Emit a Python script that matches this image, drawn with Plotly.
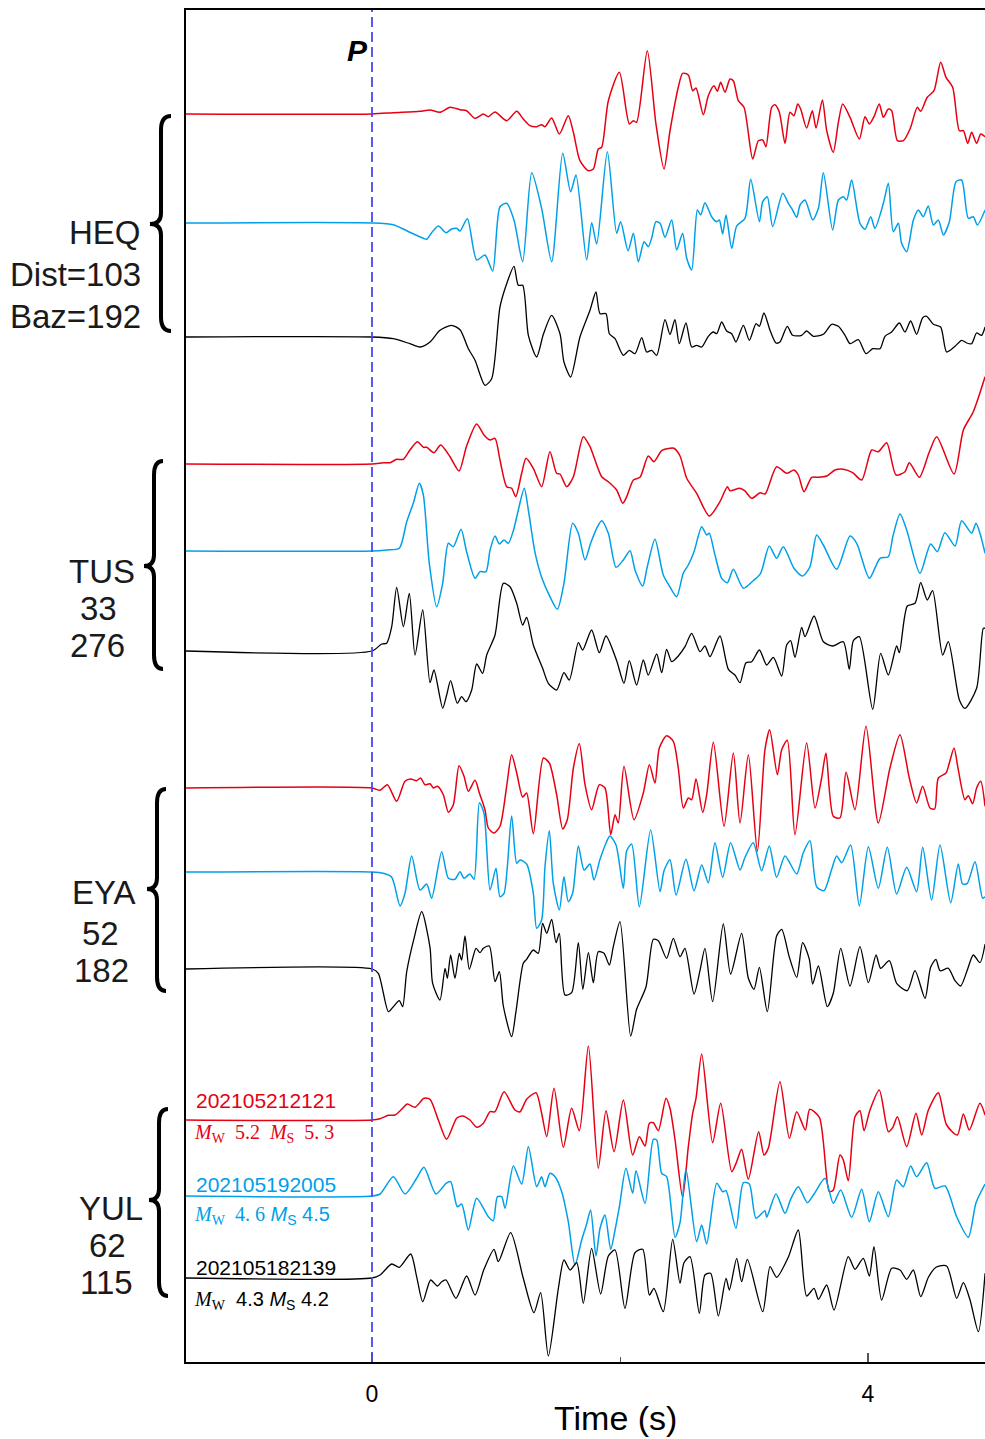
import plotly.graph_objects as go

# ---------------- data: (time s, amplitude) pairs ----------------
HEQ_RED = [(-1.5,0),(0,0),(0.172,1.3),(0.387,2.7),(0.468,4),(0.548,1.7),(0.629,6.7),(0.71,4.3),(0.763,3.3),(0.831,-4.3),(0.898,0),(0.938,-2.7),(0.992,2),(1.086,-6.7),(1.167,2.7),(1.22,-5),(1.274,-11.7),(1.328,-12.7),(1.368,-10.7),(1.395,-12.7),(1.449,-4),(1.511,-20),(1.583,-1.7),(1.624,-18.3),(1.677,-46.7),(1.745,-56.7),(1.785,-55),(1.825,-35),(1.852,-33.3),(1.906,13.3),(1.995,41.7),(2.075,-10),(2.108,-6.7),(2.134,-8.3),(2.22,63.3),(2.29,-10),(2.355,-55),(2.403,-17),(2.47,26.7),(2.505,40.7),(2.551,39),(2.586,23.3),(2.613,26),(2.672,-0.7),(2.712,18.3),(2.758,28.3),(2.785,22.7),(2.812,31.7),(2.847,21.7),(2.887,35),(2.914,33.3),(2.954,13.3),(3.0,6.7),(3.07,-45),(3.116,-26.7),(3.151,-26),(3.177,-32.7),(3.223,6.7),(3.25,9.3),(3.285,1.7),(3.331,-29.3),(3.371,1.7),(3.403,-1.7),(3.433,10),(3.457,5),(3.505,-14),(3.551,3.3),(3.581,-14),(3.632,14),(3.667,-16.7),(3.72,-38.3),(3.761,-8.3),(3.796,10),(3.855,-3.3),(3.93,-25),(3.976,-2.7),(4.011,-10),(4.048,-2.7),(4.091,10),(4.124,-3.3),(4.164,5),(4.191,3.3),(4.237,-26.7),(4.285,-26.7),(4.339,-15),(4.398,6.7),(4.425,2.7),(4.478,16.7),(4.532,23.3),(4.586,51.7),(4.629,36.7),(4.683,26.7),(4.737,-16.7),(4.769,-16.7),(4.804,-29.3),(4.836,-18.3),(4.876,-29.3),(4.909,-20),(4.944,-22.7)]

HEQ_BLUE = [(-1.5,0),(0,0),(0.172,-1.7),(0.28,-7.7),(0.414,-15.3),(0.441,-16.3),(0.481,-9.7),(0.535,-3),(0.597,-9.7),(0.642,-6),(0.683,-5.3),(0.71,-8),(0.769,4.3),(0.844,-37),(0.911,-32),(0.973,-48),(1.032,16.3),(1.086,19.7),(1.145,3),(1.215,-38.7),(1.288,50.3),(1.368,14.7),(1.449,-38.7),(1.538,69.7),(1.602,31.3),(1.645,48),(1.731,-37),(1.772,0.3),(1.812,-21),(1.898,71.3),(1.973,-10.3),(2.005,1.3),(2.065,-27.7),(2.108,-10.3),(2.148,-38.7),(2.194,-18.7),(2.228,-23.7),(2.255,-15.3),(2.29,1.3),(2.323,-0.3),(2.363,-14.3),(2.417,3),(2.457,-27),(2.505,-10.3),(2.538,-35.3),(2.578,-47),(2.624,13),(2.651,8),(2.685,20.3),(2.739,6.3),(2.78,1.3),(2.801,3),(2.828,-11),(2.855,8),(2.901,-25.3),(2.941,-3),(3.008,4.7),(3.054,43.7),(3.124,1.3),(3.151,21.3),(3.188,26.3),(3.231,-3.7),(3.312,29.7),(3.358,19.7),(3.392,13),(3.425,5.7),(3.452,18),(3.492,23),(3.554,3),(3.6,14.7),(3.64,50.3),(3.715,-7),(3.761,23),(3.801,26.3),(3.828,23),(3.868,43),(3.935,-0.3),(3.976,-6.3),(4.022,6.3),(4.056,-5.3),(4.124,19.7),(4.164,39.7),(4.204,-8.7),(4.245,-0.3),(4.271,-20.3),(4.312,-28.7),(4.366,3),(4.406,13),(4.446,6.3),(4.486,17),(4.527,-2),(4.567,3),(4.608,-12),(4.656,1.3),(4.71,41.3),(4.755,43),(4.809,4.7),(4.849,6.3),(4.882,-2),(4.944,13)]

HEQ_BLACK = [(-1.5,0),(0,0),(0.172,-1.7),(0.306,-6.7),(0.387,-10),(0.468,-5),(0.548,6.7),(0.642,11.7),(0.71,7.3),(0.777,-11.7),(0.831,-23.3),(0.911,-48.3),(0.965,-41.7),(1.032,30),(1.086,53.3),(1.145,70.7),(1.18,51.7),(1.215,51.7),(1.261,1.7),(1.328,-20),(1.382,2.7),(1.449,21.7),(1.516,3.3),(1.548,-25),(1.602,-40),(1.677,0),(1.758,26.7),(1.806,45),(1.839,23.3),(1.887,23.3),(1.914,3.3),(1.96,-1.7),(2.027,-18.3),(2.075,-13.3),(2.121,-16.7),(2.175,-0.7),(2.215,-15),(2.255,-13.3),(2.296,-18.3),(2.363,17.3),(2.403,2.5),(2.443,17.3),(2.478,-6.7),(2.532,14),(2.578,-10),(2.618,-8.3),(2.659,-10),(2.712,0.7),(2.753,5),(2.78,3.3),(2.82,15),(2.86,6),(2.901,3.3),(2.935,-5),(2.995,11.7),(3.043,-3.3),(3.097,13.3),(3.124,10.7),(3.161,24),(3.21,6.7),(3.258,-6),(3.29,-5),(3.349,10.7),(3.392,1.7),(3.465,1.7),(3.505,6),(3.559,0.7),(3.64,2.7),(3.707,12.7),(3.761,10.7),(3.815,1.7),(3.855,-6.7),(3.922,-2.7),(3.984,-16.7),(4.038,-11.7),(4.097,-11.7),(4.137,0.7),(4.191,5),(4.253,14),(4.298,5),(4.344,16),(4.392,2.7),(4.441,19.3),(4.473,20.7),(4.527,12.7),(4.586,10),(4.634,-15),(4.702,-9.3),(4.755,-3.3),(4.796,-6),(4.836,-6.7),(4.876,4),(4.916,1.7),(4.944,10)]

TUS_RED = [(-1.5,0),(0,0),(0.091,1.3),(0.145,1.3),(0.199,4.7),(0.253,4.7),(0.306,14),(0.366,22.3),(0.414,16.7),(0.441,16.7),(0.5,11.3),(0.554,19),(0.629,7.3),(0.702,-7),(0.763,18),(0.844,40),(0.903,29),(0.952,24),(0.992,25.7),(1.032,4),(1.086,-22.7),(1.126,-24.3),(1.159,-32.7),(1.207,-9.3),(1.242,5.7),(1.301,-4.3),(1.368,-22.7),(1.435,12.3),(1.489,-9.3),(1.516,-10),(1.57,-22.7),(1.624,-12.7),(1.704,27.3),(1.758,17.3),(1.852,-12.7),(1.906,-17.7),(1.973,-26),(2.022,-39.3),(2.054,-32.7),(2.108,-16),(2.161,-13.3),(2.228,8),(2.274,2.3),(2.336,13.3),(2.403,15.7),(2.435,15.7),(2.484,8),(2.538,-14.3),(2.618,-29.3),(2.72,-52),(2.806,-37.7),(2.866,-22.7),(2.887,-26.7),(2.965,-24.3),(3.005,-26.7),(3.062,-34.3),(3.13,-28.7),(3.17,-30),(3.263,-2.7),(3.344,-9.3),(3.403,-6),(3.438,-11),(3.484,-27.7),(3.546,-13.3),(3.6,-13.3),(3.667,-12),(3.734,-6),(3.801,-5.3),(3.876,-8.7),(3.949,-16),(4.03,14),(4.083,12.3),(4.151,21.3),(4.226,-11),(4.298,-7.7),(4.333,1.3),(4.414,-13.3),(4.495,12.3),(4.554,27.3),(4.694,-10),(4.769,34),(4.849,52.3),(4.944,87.3)]

TUS_BLUE = [(-1.5,0),(0,0),(0.118,1),(0.22,2.7),(0.28,29.3),(0.333,47.7),(0.382,67.7),(0.414,56),(0.462,-12.3),(0.522,-55.7),(0.57,-32.3),(0.616,7.7),(0.656,4.3),(0.718,21.7),(0.763,-0.7),(0.831,-27.3),(0.871,-20.7),(0.919,-20.7),(0.952,1),(0.992,15),(1.027,7),(1.065,11),(1.099,7.7),(1.14,20.3),(1.18,41),(1.228,62.7),(1.261,41),(1.315,-1.7),(1.368,-26.3),(1.435,-45.7),(1.495,-58.3),(1.548,-32.3),(1.618,27.7),(1.664,17.7),(1.718,-9),(1.763,7.7),(1.812,22.7),(1.852,30.3),(1.906,17.7),(1.968,-16.3),(2.027,-9),(2.081,0.3),(2.121,-19),(2.183,-35),(2.22,-15.7),(2.282,11.7),(2.349,-24),(2.403,-36),(2.457,-45.7),(2.51,-22.3),(2.551,-14),(2.597,-0.7),(2.659,24.3),(2.699,16),(2.72,17.7),(2.766,-4),(2.82,-27.3),(2.866,-31.7),(2.914,-18.3),(2.995,-37.3),(3.075,-29.7),(3.134,-22.3),(3.204,5),(3.263,-7.3),(3.317,4.3),(3.403,-17.3),(3.473,-25),(3.532,-15.7),(3.586,16),(3.64,6),(3.747,-18.3),(3.855,15),(3.909,7.7),(4.011,-27.3),(4.097,-7.3),(4.164,-5.7),(4.2,14.3),(4.258,37),(4.312,21),(4.419,-22.3),(4.505,7),(4.559,-0.7),(4.62,18.3),(4.702,5),(4.755,30.3),(4.836,17.7),(4.871,27.7),(4.903,17.7),(4.944,-2.3)]

TUS_BLACK = [(-1.5,0),(0,0),(0.078,7),(0.118,7.7),(0.159,24.3),(0.199,63.7),(0.253,24.3),(0.301,57.7),(0.347,-4),(0.409,41),(0.468,-31.7),(0.5,-19),(0.57,-57.3),(0.602,-44),(0.634,-29.7),(0.688,-52.3),(0.723,-45.7),(0.758,-50.7),(0.804,-39),(0.844,-13),(0.892,-22.3),(0.925,-4),(0.992,16),(1.059,67.7),(1.113,64.3),(1.167,47.7),(1.215,26),(1.247,33.7),(1.301,6),(1.376,-17.3),(1.422,-32.3),(1.489,-39),(1.548,-21.7),(1.591,-29),(1.664,8.3),(1.699,1),(1.771,21),(1.833,-1.7),(1.887,15),(1.973,-9.7),(2.032,-32.3),(2.075,-9.7),(2.134,-34),(2.188,-9),(2.228,-24),(2.296,-3),(2.336,-21.7),(2.376,1.7),(2.417,-10.7),(2.47,-5),(2.524,4.3),(2.578,17.7),(2.645,-0.7),(2.685,5),(2.726,-5.7),(2.806,15),(2.874,-18.3),(2.927,-24),(2.968,-31.7),(3.016,-11.7),(3.062,-10.7),(3.124,1),(3.183,-14),(3.237,-6.3),(3.304,-25),(3.344,6),(3.376,10.3),(3.411,-6.3),(3.465,23.7),(3.492,14.3),(3.565,35),(3.64,9.3),(3.715,5),(3.801,9.3),(3.849,-18.3),(3.882,10.3),(3.93,14.3),(4.038,-58.3),(4.102,-2.3),(4.164,-24),(4.231,5),(4.253,-1.7),(4.317,45),(4.379,47.7),(4.425,68.3),(4.478,51),(4.521,60.3),(4.602,-4),(4.648,9.3),(4.737,-49),(4.782,-57.3),(4.876,-37.3),(4.93,22.7),(4.944,22.7)]

EYA_RED = [(-1.5,0),(0,0),(0.065,-2.3),(0.124,3.3),(0.199,-13.3),(0.266,6.7),(0.312,9),(0.36,7.3),(0.392,10),(0.427,3.3),(0.468,4.3),(0.495,0),(0.527,1.7),(0.575,-6.7),(0.616,-24.3),(0.656,-16.7),(0.702,22.3),(0.742,11.7),(0.777,-3.3),(0.831,7.7),(0.866,-5),(0.911,-21.7),(0.938,-40),(0.984,-45),(1.032,-38.3),(1.086,1.7),(1.126,33.3),(1.167,15),(1.215,-9),(1.247,-5),(1.301,-45.7),(1.382,30),(1.43,25),(1.489,-6.7),(1.538,-41),(1.575,-31.7),(1.624,20),(1.672,44.3),(1.718,3.3),(1.771,-21.7),(1.833,3.3),(1.879,0),(1.925,-46.7),(1.96,-26.7),(1.986,-35),(2.032,21.7),(2.113,-31.7),(2.188,-5),(2.237,23.3),(2.282,5),(2.317,40),(2.376,52.3),(2.43,46.7),(2.47,20),(2.511,-20),(2.551,-10),(2.578,-11.7),(2.613,9),(2.667,-24.3),(2.699,-6.7),(2.753,45.7),(2.839,-38.3),(2.914,35),(2.968,-35),(3.035,33.3),(3.108,-63.3),(3.169,38.3),(3.207,58.3),(3.269,13.3),(3.304,38.3),(3.349,47.7),(3.411,-46.7),(3.505,45),(3.573,-20),(3.626,10),(3.661,35),(3.72,-28.3),(3.774,-30),(3.823,15.7),(3.895,-21.7),(3.984,61.7),(4.083,-35),(4.177,20),(4.258,53.3),(4.333,10),(4.392,-15),(4.441,1.7),(4.5,-20),(4.538,-21),(4.567,10),(4.629,15),(4.656,25),(4.694,40),(4.728,18.3),(4.782,-11.7),(4.809,-7.7),(4.844,-15.7),(4.876,0),(4.909,6.7),(4.944,-18.3)]

EYA_BLUE = [(-1.5,0),(0,0),(0.091,-1.3),(0.159,-5.3),(0.226,-34),(0.266,-21.3),(0.32,16),(0.387,-18),(0.441,-12),(0.481,-26.3),(0.562,20.3),(0.616,-6.3),(0.669,-7.3),(0.71,0.3),(0.742,-6.3),(0.79,-2),(0.823,-7.3),(0.866,69.3),(0.903,58.7),(0.952,-18),(1.0,3.7),(1.032,-24.7),(1.065,-21.3),(1.126,56),(1.167,8.7),(1.194,12),(1.247,8),(1.301,-21.3),(1.328,-56.3),(1.368,-48),(1.395,5.3),(1.43,41.3),(1.462,-11.3),(1.511,-38),(1.548,-4.7),(1.583,-29.7),(1.618,-21.3),(1.664,26),(1.71,2),(1.758,8),(1.79,-8),(1.839,12.7),(1.892,30.3),(1.919,36),(1.968,27),(2.027,-16.3),(2.054,21.3),(2.094,28),(2.156,-34.7),(2.247,42),(2.323,-19.7),(2.355,1.3),(2.403,12.3),(2.452,-23),(2.532,12.7),(2.597,-18.7),(2.659,7),(2.712,-10.7),(2.766,29.3),(2.828,-5.3),(2.892,29.3),(2.968,2),(3.008,14.7),(3.075,29.3),(3.142,1.3),(3.204,26),(3.263,-5.3),(3.331,16),(3.425,-2),(3.478,19.3),(3.532,31.3),(3.586,-14.7),(3.645,-18.7),(3.707,2.7),(3.747,16),(3.788,9.3),(3.86,27),(3.93,-34),(4.003,25.3),(4.083,-16.3),(4.156,24.7),(4.231,-22),(4.312,4.7),(4.392,-19.7),(4.441,24.7),(4.513,-28),(4.581,27),(4.667,-30.7),(4.728,8),(4.763,-12),(4.801,-11.3),(4.863,10.3),(4.925,-26.3),(4.944,-24.7)]

EYA_BLACK = [(-1.5,0),(0,0),(0.051,-4.3),(0.132,-42.7),(0.172,-37.7),(0.22,-31.7),(0.247,-37.7),(0.28,-2.7),(0.339,30.7),(0.401,57.3),(0.468,21.3),(0.489,-14.3),(0.548,-31),(0.589,0.7),(0.608,-9.3),(0.634,14),(0.669,-9.3),(0.704,15.7),(0.723,9),(0.75,33),(0.785,-0.3),(0.839,20.7),(0.871,16.3),(0.898,20.7),(0.946,23),(0.992,-12.7),(1.027,-2.7),(1.059,-37),(1.126,-67.7),(1.161,-42.7),(1.22,5.7),(1.247,9.7),(1.301,19),(1.341,15.7),(1.376,45.7),(1.409,35.7),(1.449,49.7),(1.484,26.3),(1.511,35.7),(1.556,-26),(1.61,-23.7),(1.664,26.3),(1.7,-20.3),(1.745,16.3),(1.785,-13.7),(1.825,17.3),(1.871,15.7),(1.914,4),(1.946,22.3),(2.0,47.3),(2.086,-67),(2.134,-40.3),(2.21,-17.7),(2.269,29.7),(2.309,28.3),(2.376,10.7),(2.43,30.7),(2.484,12.3),(2.524,20.7),(2.597,-25),(2.645,-1.7),(2.685,20.7),(2.747,-32.7),(2.833,45),(2.892,-5),(2.981,35.7),(3.035,-9.3),(3.081,-20.3),(3.124,1.7),(3.188,-42.7),(3.263,33),(3.304,39.7),(3.366,11.7),(3.425,-8.3),(3.473,26.3),(3.527,9.7),(3.554,-15),(3.6,3),(3.672,-37.7),(3.72,-24.3),(3.78,20.7),(3.855,-17),(3.935,22.3),(4.003,-13.7),(4.065,14),(4.102,0.7),(4.172,8.3),(4.231,-14.3),(4.317,-21.7),(4.379,-1.7),(4.46,-29.3),(4.505,1.7),(4.548,9.7),(4.581,-1.7),(4.648,0.7),(4.702,-11.7),(4.747,-17),(4.801,-1),(4.849,14),(4.903,6.3),(4.944,25)]

YUL_RED = [(-1.5,0),(0,0),(0.065,1.3),(0.132,4.7),(0.185,5),(0.239,10.7),(0.285,16),(0.347,12.7),(0.419,21.7),(0.468,20.7),(0.535,0),(0.602,-19.3),(0.683,1.7),(0.731,4),(0.79,0),(0.844,-7.3),(0.898,-3.3),(0.952,8.3),(0.992,8.3),(1.065,28.3),(1.153,10),(1.194,8.3),(1.247,20.7),(1.323,27.3),(1.368,6.7),(1.409,-16.7),(1.468,31.7),(1.543,-27.3),(1.61,11.7),(1.672,-10.7),(1.745,74),(1.825,-48.3),(1.887,9.3),(1.952,-31.7),(2.027,20),(2.102,-35),(2.156,-16.7),(2.202,-26),(2.237,-3.3),(2.269,-2.7),(2.309,-10.7),(2.371,21.7),(2.403,11.7),(2.444,-20),(2.505,-77.3),(2.551,-26.7),(2.586,6.7),(2.613,21.7),(2.659,66),(2.747,-22.7),(2.812,16.7),(2.901,-51.7),(2.941,-41.7),(2.981,-29.3),(3.035,-59.3),(3.118,-11.7),(3.161,-35),(3.196,-28.3),(3.29,38.3),(3.366,-18.3),(3.425,8.3),(3.495,-10),(3.53,10.7),(3.608,2.7),(3.688,-71.7),(3.72,-70),(3.774,-35),(3.801,-40),(3.841,-60.7),(3.895,3.3),(3.935,9.3),(3.968,-10.7),(4.016,10),(4.091,30),(4.164,-11.7),(4.2,-7.3),(4.237,3.3),(4.312,-26.7),(4.387,6.7),(4.433,-15),(4.487,10),(4.567,27.3),(4.634,-5),(4.72,-15),(4.769,6),(4.817,-10),(4.903,16.7),(4.944,5)]

YUL_BLUE = [(-1.5,0),(0,0),(0.065,2),(0.172,19.3),(0.266,2),(0.36,17.7),(0.419,28.7),(0.516,2),(0.597,12.7),(0.634,14.3),(0.688,-10.7),(0.723,-8),(0.777,-34),(0.844,-2.3),(0.938,-20.7),(0.978,-24.7),(1.011,-0.7),(1.046,-0.7),(1.073,-12.3),(1.14,30),(1.207,12),(1.261,49.3),(1.328,9.3),(1.368,19.3),(1.395,9.3),(1.435,22.7),(1.476,19.3),(1.53,4.3),(1.583,-25.7),(1.637,-69),(1.691,-44),(1.731,-28),(1.763,-14),(1.806,-60),(1.839,-32.3),(1.879,-19),(1.925,-53.3),(1.96,-34),(1.995,-10.7),(2.048,27.7),(2.102,2.7),(2.129,25.3),(2.202,-7.3),(2.269,56.7),(2.296,56),(2.336,22.7),(2.376,19.3),(2.444,-41.3),(2.484,-26.7),(2.532,26.7),(2.618,-45.7),(2.659,-29),(2.699,-48),(2.78,12.7),(2.828,4.3),(2.855,5.3),(2.935,-32.3),(2.995,13.3),(3.043,12),(3.097,-22.3),(3.169,-14.7),(3.183,-21.3),(3.258,2),(3.331,-17.3),(3.376,-3.3),(3.438,9.3),(3.511,-6.7),(3.565,2),(3.653,17.7),(3.72,-7.3),(3.78,6),(3.868,-21.3),(3.949,6.7),(4.011,-25.7),(4.083,4.3),(4.164,-20.7),(4.231,16),(4.285,9.3),(4.344,30),(4.392,19.3),(4.473,33.3),(4.54,7.7),(4.621,10),(4.715,-20.7),(4.809,-41.3),(4.871,-6.7),(4.944,12)]

YUL_BLACK = [(-1.5,0),(0,0),(0.065,3),(0.159,14),(0.22,10.7),(0.312,24),(0.36,1.3),(0.409,-23.7),(0.473,-2),(0.527,-8),(0.562,-3.7),(0.597,-2),(0.677,-20.3),(0.763,2),(0.831,-17),(0.903,8.7),(0.984,28.7),(1.019,16.3),(1.118,45.3),(1.22,-0.3),(1.306,-34.7),(1.36,-14.7),(1.422,-78),(1.503,-10.3),(1.548,18),(1.597,8),(1.651,15.3),(1.704,-25.3),(1.771,29.7),(1.844,-16),(1.906,22),(1.96,28),(2.04,-30.3),(2.121,25.3),(2.183,28.7),(2.237,-17),(2.274,-10.3),(2.349,-33.7),(2.425,38.7),(2.484,-5.3),(2.516,15.3),(2.565,21.3),(2.64,-35.3),(2.685,3),(2.731,4.7),(2.793,-38),(2.855,-0.3),(2.882,-12),(2.941,19.7),(2.981,-3.7),(3.027,18.7),(3.151,-33.7),(3.21,11.3),(3.263,0.7),(3.357,20.7),(3.438,48),(3.505,-18),(3.565,-10.3),(3.6,-21.3),(3.667,-7),(3.726,-32),(3.841,21.3),(3.895,8.7),(3.962,19.7),(4.011,2),(4.048,31.3),(4.11,-22),(4.191,9.7),(4.258,8),(4.312,-1.3),(4.366,8),(4.425,-18.7),(4.487,0.7),(4.548,10.7),(4.634,12),(4.715,-20.3),(4.769,-4.7),(4.823,-22),(4.89,-53.7),(4.944,4.7)]

STATIONS = ["HEQ", "TUS", "EYA", "YUL"]
DIST = ["Dist=103", "33", "52", "62"]
BAZ = ["Baz=192", "276", "182", "115"]
EVENTS = ["202105212121", "202105192005", "202105182139"]
X_TICKS = [0, 4]
X_TICK_TEXT = ["0", "4"]

# ---------------- layout helpers ----------------
W, H = 985, 1439
L, T, B = 186, 10, 77
PH = H - T - B


def px2x(px):
    return (px - L) / (W - L)


def py2y(py):
    return (H - B - py) / PH


RED, BLUE, BLACK = "#E60012", "#00A0E9", "#000000"
COLORS = [RED, BLUE, BLACK]
# trace baselines (display units above the bottom of the plot area)
OFFSETS = {
    "HEQ": [1248, 1139, 1025],
    "TUS": [898, 811, 711],
    "EYA": [574, 490, 393],
    "YUL": [242, 166, 84],
}
WAVES = {
    "HEQ": [HEQ_RED, HEQ_BLUE, HEQ_BLACK],
    "TUS": [TUS_RED, TUS_BLUE, TUS_BLACK],
    "EYA": [EYA_RED, EYA_BLUE, EYA_BLACK],
    "YUL": [YUL_RED, YUL_BLUE, YUL_BLACK],
}

fig = go.Figure()
for st in STATIONS:
    for wave, off, col in zip(WAVES[st], OFFSETS[st], COLORS):
        fig.add_trace(go.Scatter(
            x=[p[0] for p in wave],
            y=[off + p[1] for p in wave],
            mode="lines",
            line=dict(color=col, width=1.5 if col != BLACK else 1.3,
                      shape="spline", smoothing=0.7),
            hoverinfo="skip", showlegend=False,
        ))

# P arrival dashed line
fig.add_shape(type="line", xref="x", yref="paper", x0=0, x1=0, y0=0, y1=1,
              line=dict(color="#4848F2", width=1.8, dash="10px,5px"), layer="above")

SANS = "Liberation Sans, Arial, Helvetica, sans-serif"
SERIF = "Liberation Serif, Times New Roman, serif"
annos = []


def txt(text, px, py, size, color="#1a1a1a", xanchor="center", family=SANS):
    annos.append(dict(text=text, x=px2x(px), y=py2y(py), xref="paper", yref="paper",
                      showarrow=False, xanchor=xanchor, yanchor="middle",
                      font=dict(family=family, size=size, color=color)))


txt("<b><i>P</i></b>", 357, 51, 30, color="#000")

# station labels
txt(STATIONS[0], 143, 232, 33, xanchor="right")
txt(DIST[0], 143, 274, 33, xanchor="right")
txt(BAZ[0], 143, 316, 33, xanchor="right")
lab_pos = {
    "TUS": [(102, 571), (98, 608), (97, 645)],
    "EYA": [(104, 892), (100, 933), (101, 970)],
    "YUL": [(111, 1208), (107, 1245), (106, 1282)],
}
for i, st in enumerate(STATIONS[1:], start=1):
    for s, (px, py) in zip([st, DIST[i], BAZ[i]], lab_pos[st]):
        txt(s, px, py, 33)

# event labels
NB = "\u00a0"
txt(EVENTS[0], 194, 1100, 21, color=RED, xanchor="left")
txt(f"<i>M</i><sub>W</sub>{NB}{NB}5.2{NB}{NB}<i>M</i><sub>S</sub>{NB}{NB}5.{NB}3",
    192, 1133, 20, color=RED, xanchor="left", family=SERIF)
txt(EVENTS[1], 194, 1184, 21, color=BLUE, xanchor="left")
txt(f"<i>M</i><sub>W</sub>{NB}{NB}4.{NB}6<span style='font-family:Liberation Sans'>{NB}<i>M</i><sub>S</sub>{NB}4.5</span>",
    192, 1215, 20, color=BLUE, xanchor="left", family=SERIF)
txt(EVENTS[2], 194, 1267, 21, color=BLACK, xanchor="left")
txt(f"<i>M</i><sub>W</sub><span style='font-family:Liberation Sans'>{NB}{NB}4.3{NB}<i>M</i><sub>S</sub>{NB}4.2</span>",
    192, 1300, 20, color=BLACK, xanchor="left", family=SERIF)

# axis title
txt("Time (s)", 615, 1418, 34, color="#000")

# curly braces


def brace(xt, xs, xp, yt, ym, yb, r=14, r2=11):
    pts = [
        ("M", [(xt, yt)]),
        ("Q", [(xs, yt), (xs, yt + r)]),
        ("L", [(xs, ym - r2)]),
        ("Q", [(xs, ym), (xp, ym)]),
        ("Q", [(xs, ym), (xs, ym + r2)]),
        ("L", [(xs, yb - r)]),
        ("Q", [(xs, yb), (xt, yb)]),
    ]
    d = ""
    for cmd, ps in pts:
        d += cmd + " " + " ".join(f"{px2x(a):.5f},{py2y(b):.5f}" for a, b in ps) + " "
    fig.add_shape(type="path", path=d.strip(), xref="paper", yref="paper",
                  line=dict(color="#000", width=4))


brace(171, 161, 150, 116, 224, 331)
brace(163, 154, 144, 461, 566, 669)
brace(166, 157, 147, 789, 889, 991)
brace(168, 159, 149, 1109, 1200, 1296)

fig.update_layout(
    width=W, height=H,
    margin=dict(l=L, r=0, t=T, b=B, pad=0),
    paper_bgcolor="white", plot_bgcolor="white",
    annotations=annos,
    showlegend=False,
    xaxis=dict(range=[-1.5, (W - 372) / 124.0], tickvals=X_TICKS, ticktext=X_TICK_TEXT,
               ticks="inside", ticklen=9, tickwidth=1.5, tickcolor="#555",
               minor=dict(tickvals=[2], ticks="inside", ticklen=5, tickwidth=1.2, tickcolor="#555"),
               showline=True, linecolor="#000", linewidth=2, mirror=True,
               showgrid=False, zeroline=False,
               tickfont=dict(family=SANS, size=23, color="#000"),
               ticklabelstandoff=10, fixedrange=True),
    yaxis=dict(range=[0, PH], showticklabels=False, ticks="",
               showline=True, linecolor="#000", linewidth=2, mirror=False,
               showgrid=False, zeroline=False, fixedrange=True),
)

fig.write_html("out.html")
